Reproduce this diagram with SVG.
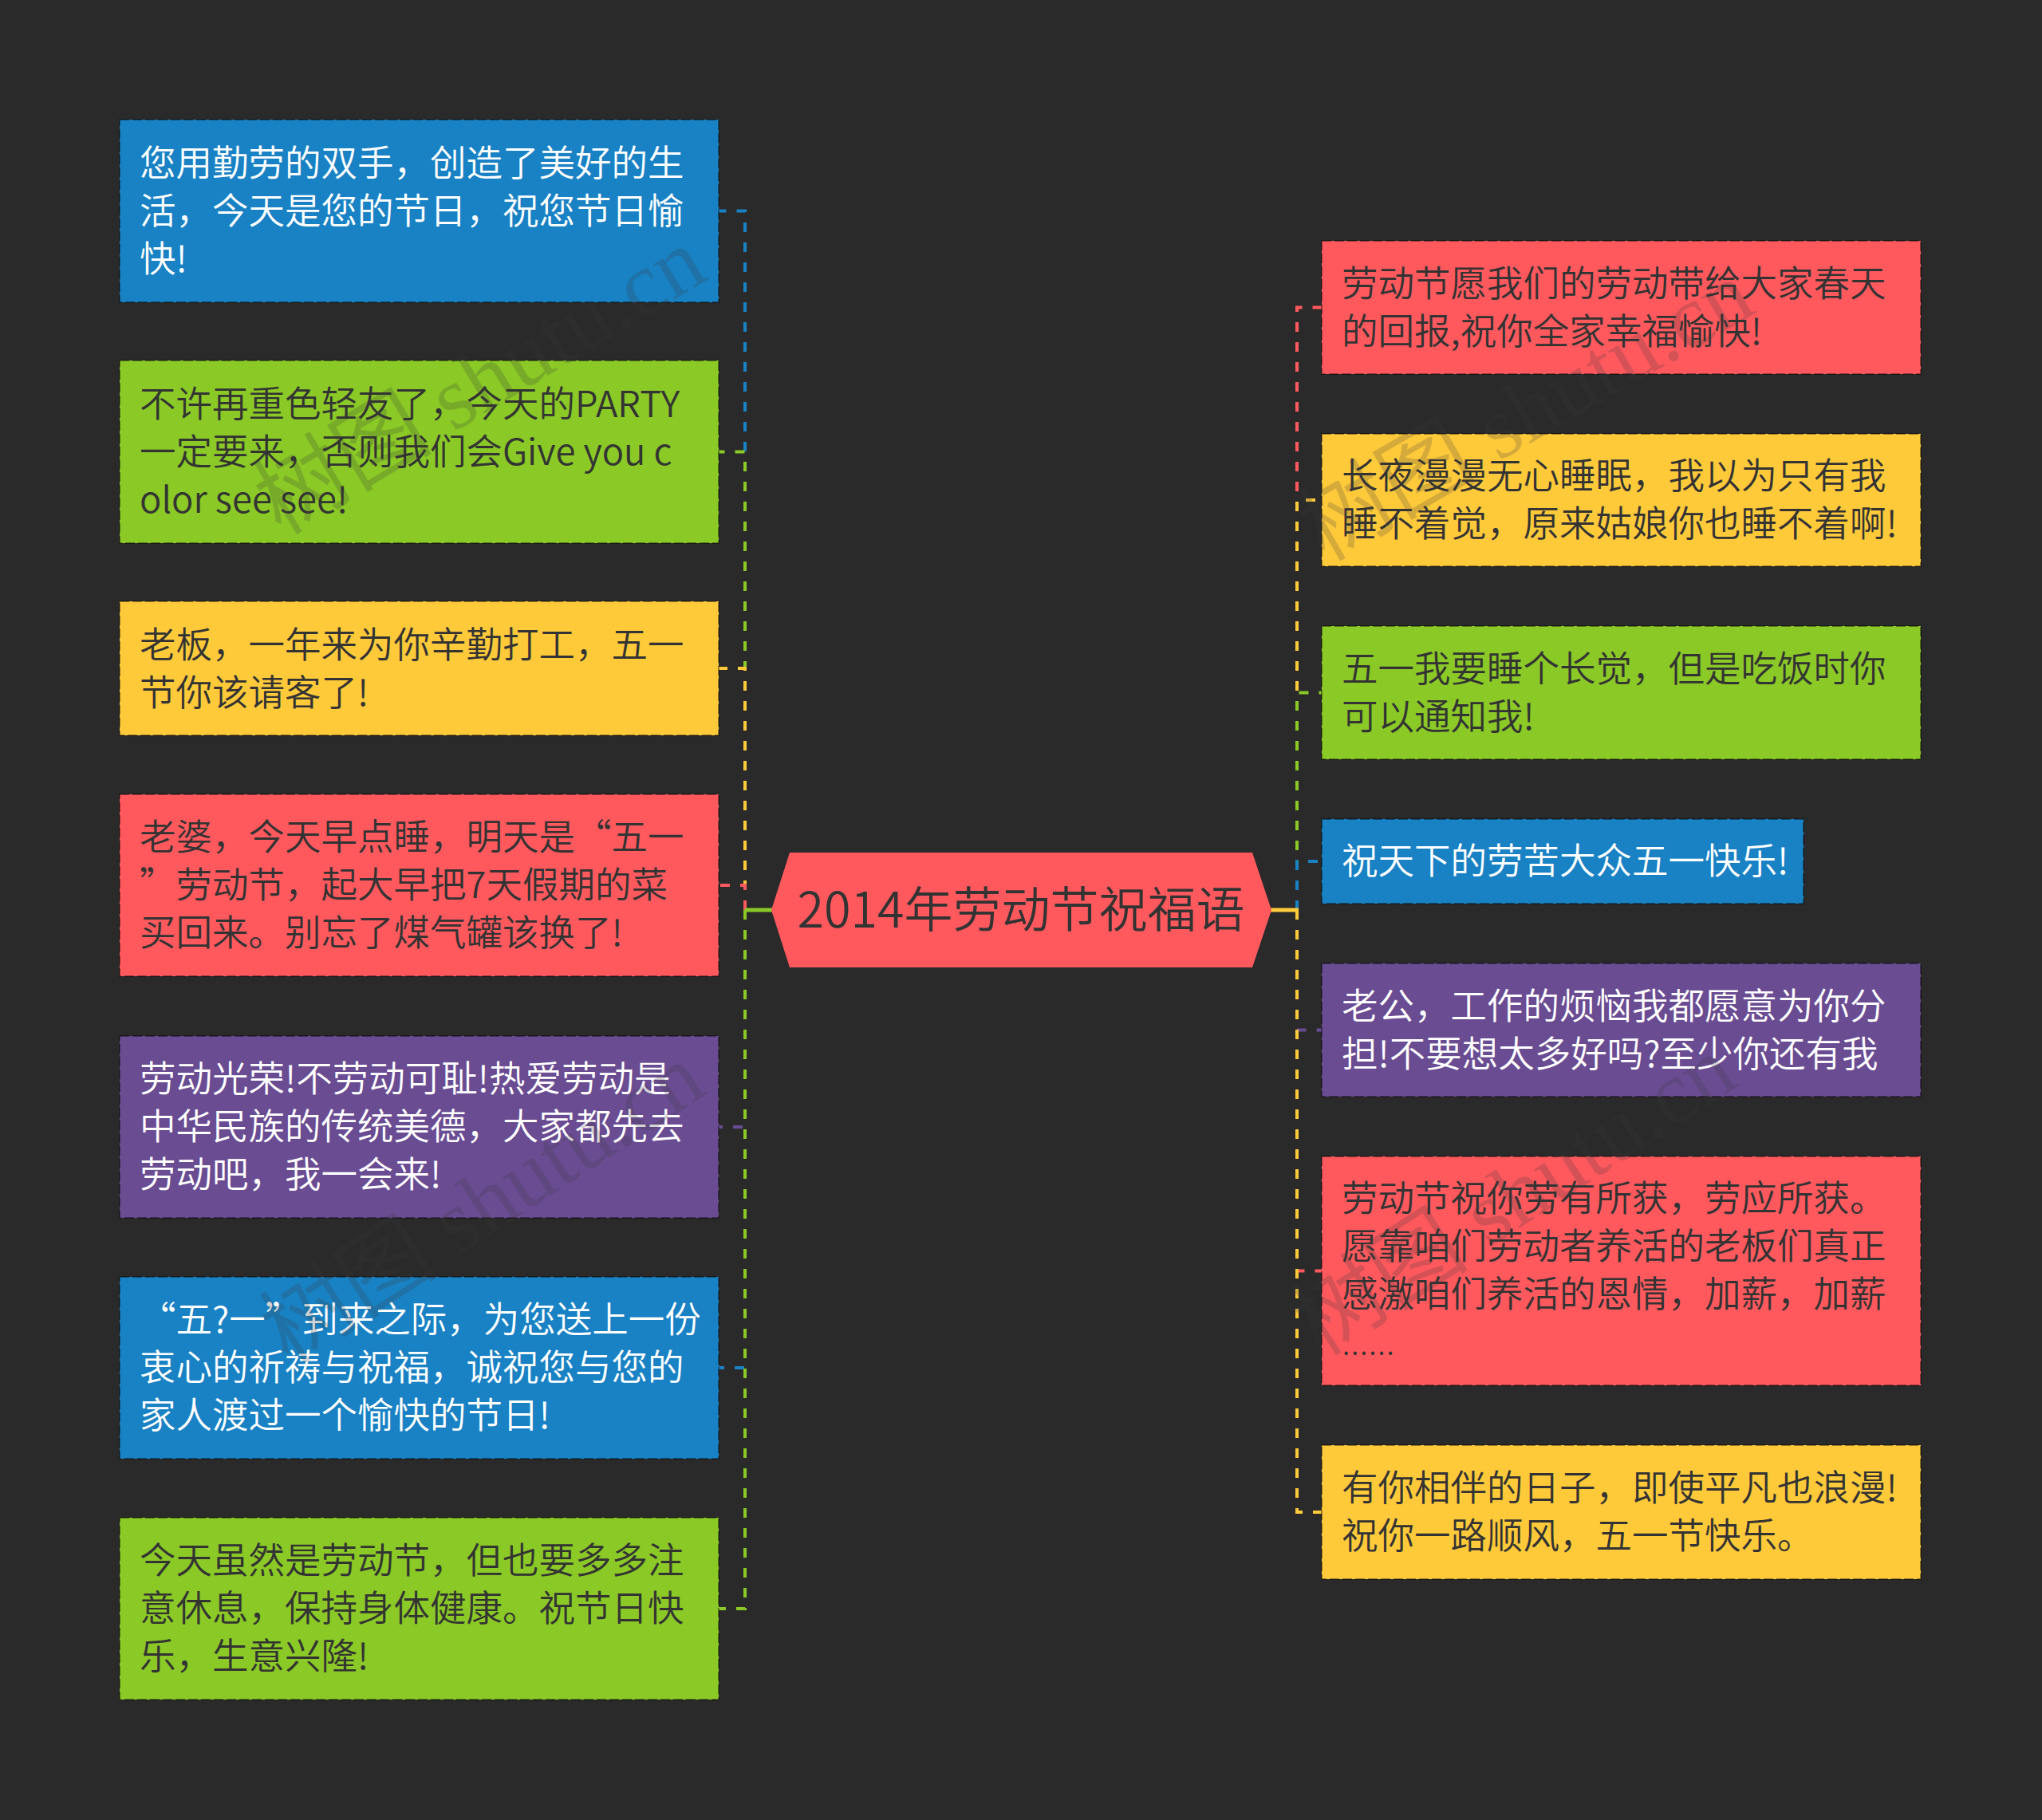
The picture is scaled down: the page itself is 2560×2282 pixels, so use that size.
<svg xmlns="http://www.w3.org/2000/svg" width="2560" height="2282" viewBox="0 0 2560 2282">
<style>
.bg{fill:#2a2a2a}
.n rect{stroke:rgba(0,0,0,0.4);stroke-width:2;stroke-dasharray:12 4}
.blue{fill:#1982c4}.green{fill:#8ac926}.yellow{fill:#ffca3a}.red{fill:#ff595e}.purple{fill:#6a4c93}
.t{font-family:"Noto Sans CJK SC","Noto Sans",sans-serif;font-size:45.5px;font-weight:350}
.dk{fill:#333333}.wh{fill:#ffffff}
.c path{fill:none;stroke-width:4;stroke-dasharray:12 13;stroke-linecap:butt}
.sb{stroke:#1982c4}.sg{stroke:#8ac926}.sy{stroke:#ffca3a}.sr{stroke:#ff595e}.sp{stroke:#6a4c93}
.wm{font-family:"Liberation Serif","Noto Sans CJK SC",serif;font-size:112px;fill:#3a3a3a;fill-opacity:0.22}
</style>
<rect class="bg" x="0" y="0" width="2560" height="2282"/>
<g id="connectors" class="c">
<path class="sb" d="M934 1141V264.5H901"/>
<path class="sg" d="M934 1141V566.5H901"/>
<path class="sy" d="M934 1141V838H901"/>
<path class="sr" d="M934 1141V1110H901"/>
<path class="sp" d="M934 1141V1413H901"/>
<path class="sb" d="M934 1141V1715H901"/>
<path class="sg" d="M934 1141V2017H901"/>
<path d="M934 1141H968" style="stroke:#8ac926;stroke-width:5;stroke-dasharray:none"/>
<path class="sr" d="M1626 1141V385.5H1657"/>
<path class="sy" d="M1626 1141V627H1657"/>
<path class="sg" d="M1626 1141V868.5H1657"/>
<path class="sb" d="M1626 1141V1080H1657"/>
<path class="sp" d="M1626 1141V1291.5H1657"/>
<path class="sr" d="M1626 1141V1593.5H1657"/>
<path class="sy" d="M1626 1141V1896H1657"/>
<path d="M1593 1141H1628" style="stroke:#ffca3a;stroke-width:5;stroke-dasharray:none"/>
</g>
<g id="center">
<polygon class="red" points="967,1141 990,1069 1570,1069 1594,1141 1570,1213 990,1213"/>
<text x="1280" y="1163" text-anchor="middle" style="font-family:'Noto Sans CJK SC','Noto Sans',sans-serif;font-size:61px;font-weight:350;fill:#333333">2014年劳动节祝福语</text>
</g>
<g id="L1" class="n"><rect class="blue" x="150" y="150" width="751" height="229"/>
<text class="t wh"><tspan x="175" y="221">您用勤劳的双手，创造了美好的生</tspan><tspan x="175" y="281">活，今天是您的节日，祝您节日愉</tspan><tspan x="175" y="341">快!</tspan></text></g>
<g id="L2" class="n"><rect class="green" x="150" y="452" width="751" height="229"/>
<text class="t dk"><tspan x="175" y="523">不许再重色轻友了，今天的PARTY</tspan><tspan x="175" y="583">一定要来，否则我们会Give you c</tspan><tspan x="175" y="643">olor see see!</tspan></text></g>
<g id="L3" class="n"><rect class="yellow" x="150" y="754" width="751" height="168"/>
<text class="t dk"><tspan x="175" y="825">老板，一年来为你辛勤打工，五一</tspan><tspan x="175" y="885">节你该请客了!</tspan></text></g>
<g id="L4" class="n"><rect class="red" x="150" y="996" width="751" height="228"/>
<text class="t dk"><tspan x="175" y="1066">老婆，今天早点睡，明天是“五一</tspan><tspan x="175" y="1126">”劳动节，起大早把7天假期的菜</tspan><tspan x="175" y="1186">买回来。别忘了煤气罐该换了!</tspan></text></g>
<g id="L5" class="n"><rect class="purple" x="150" y="1299" width="751" height="228"/>
<text class="t wh"><tspan x="175" y="1369">劳动光荣!不劳动可耻!热爱劳动是</tspan><tspan x="175" y="1429">中华民族的传统美德，大家都先去</tspan><tspan x="175" y="1489">劳动吧，我一会来!</tspan></text></g>
<g id="L6" class="n"><rect class="blue" x="150" y="1601" width="751" height="228"/>
<text class="t wh"><tspan x="175" y="1671">“五?一”到来之际，为您送上一份</tspan><tspan x="175" y="1731">衷心的祈祷与祝福，诚祝您与您的</tspan><tspan x="175" y="1791">家人渡过一个愉快的节日!</tspan></text></g>
<g id="L7" class="n"><rect class="green" x="150" y="1903" width="751" height="228"/>
<text class="t dk"><tspan x="175" y="1973">今天虽然是劳动节，但也要多多注</tspan><tspan x="175" y="2033">意休息，保持身体健康。祝节日快</tspan><tspan x="175" y="2093">乐，生意兴隆!</tspan></text></g>
<g id="R1" class="n"><rect class="red" x="1657" y="302" width="751" height="167"/>
<text class="t dk"><tspan x="1682" y="372">劳动节愿我们的劳动带给大家春天</tspan><tspan x="1682" y="432">的回报,祝你全家幸福愉快!</tspan></text></g>
<g id="R2" class="n"><rect class="yellow" x="1657" y="544" width="751" height="166"/>
<text class="t dk"><tspan x="1682" y="613">长夜漫漫无心睡眠，我以为只有我</tspan><tspan x="1682" y="673">睡不着觉，原来姑娘你也睡不着啊!</tspan></text></g>
<g id="R3" class="n"><rect class="green" x="1657" y="785" width="751" height="167"/>
<text class="t dk"><tspan x="1682" y="855">五一我要睡个长觉，但是吃饭时你</tspan><tspan x="1682" y="915">可以通知我!</tspan></text></g>
<g id="R4" class="n"><rect class="blue" x="1657" y="1027" width="604" height="106"/>
<text class="t wh"><tspan x="1682" y="1096">祝天下的劳苦大众五一快乐!</tspan></text></g>
<g id="R5" class="n"><rect class="purple" x="1657" y="1208" width="751" height="167"/>
<text class="t wh"><tspan x="1682" y="1278">老公，工作的烦恼我都愿意为你分</tspan><tspan x="1682" y="1338">担!不要想太多好吗?至少你还有我</tspan></text></g>
<g id="R6" class="n"><rect class="red" x="1657" y="1450" width="751" height="287"/>
<text class="t dk"><tspan x="1682" y="1519">劳动节祝你劳有所获，劳应所获。</tspan><tspan x="1682" y="1579">愿靠咱们劳动者养活的老板们真正</tspan><tspan x="1682" y="1639">感激咱们养活的恩情，加薪，加薪</tspan><tspan x="1682" y="1699" style="font-family:'Noto Sans',sans-serif">……</tspan></text></g>
<g id="R7" class="n"><rect class="yellow" x="1657" y="1812" width="751" height="168"/>
<text class="t dk"><tspan x="1682" y="1882">有你相伴的日子，即使平凡也浪漫!</tspan><tspan x="1682" y="1942">祝你一路顺风，五一节快乐。</tspan></text></g>
<g id="watermarks">
<text class="wm" transform="translate(352 672) rotate(-31)">树图 shutu.cn</text>
<text class="wm" transform="translate(362 1712) rotate(-33)">树图 shutu.cn</text>
<text class="wm" transform="translate(1660 705) rotate(-30)">树图 shutu.cn</text>
<text class="wm" transform="translate(1655 1702) rotate(-33)">树图 shutu.cn</text>
</g>
</svg>
